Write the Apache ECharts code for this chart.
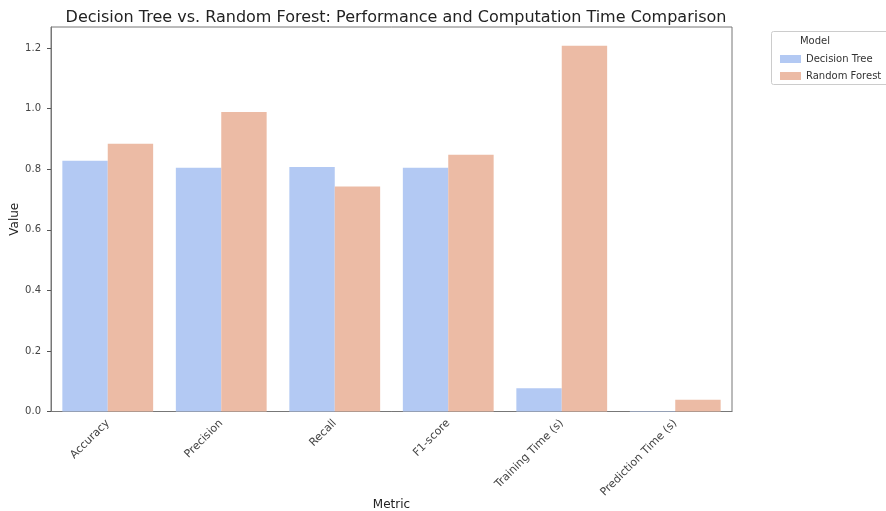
<!DOCTYPE html>
<html><head><meta charset="utf-8">
<script src="https://cdn.jsdelivr.net/npm/echarts@6/dist/echarts.min.js"></script>
<style>html,body{margin:0;padding:0;background:#fff}#c{width:886px;height:511px}</style>
</head><body><div id="c"></div>
<script>
const categories = ["Accuracy","Precision","Recall","F1-score","Training Time (s)","Prediction Time (s)"];
const decisionTree = [0.828,0.805,0.807,0.805,0.077,0.002];
const randomForest = [0.884,0.989,0.743,0.848,1.208,0.039];
const seriesNames = ["Decision Tree","Random Forest"];
const colors = ["#b3c9f3","#ecbba5"];
const font = "DejaVu Sans";
const chart = echarts.init(document.getElementById('c'));
chart.setOption({
  animation:false,
  title:{text:"Decision Tree vs. Random Forest: Performance and Computation Time Comparison",left:391,top:5,textAlign:'center',
    textStyle:{fontFamily:font,fontSize:16,fontWeight:'normal',color:'#222'}},
  grid:{left:51,right:154,top:27,bottom:99.5,show:true,borderColor:'#777',borderWidth:1,containLabel:false,outerBoundsMode:'none'},
  legend:{data:seriesNames,orient:'vertical',left:775,top:49,itemWidth:21,itemHeight:8,itemGap:7,
    textStyle:{fontFamily:font,fontSize:10,color:'#333'},icon:'rect'},
  graphic:[
    {type:'rect',shape:{x:771.5,y:31.5,width:120,height:53,r:2},style:{fill:'none',stroke:'#ccc',lineWidth:1}},
    {type:'text',style:{text:'Model',x:815,y:36,textAlign:'center',fontFamily:font,fontSize:10,fill:'#333'}}
  ],
  xAxis:{type:'category',data:categories,name:'Metric',nameLocation:'middle',nameGap:87,nameMoveOverlap:false,
    nameTextStyle:{fontFamily:font,fontSize:12,color:'#222'},
    axisLine:{lineStyle:{color:'#777'}},axisTick:{alignWithLabel:true,length:4,lineStyle:{color:'#555'}},
    axisLabel:{rotate:45,fontFamily:font,fontSize:11,color:'#444',margin:10}},
  yAxis:{type:'value',min:0,max:1.2695,interval:0.2,name:'Value',nameLocation:'middle',nameGap:30,nameMoveOverlap:false,
    nameTextStyle:{fontFamily:font,fontSize:12,color:'#222'},
    axisLine:{show:true,lineStyle:{color:'#777'}},axisTick:{show:true,length:4,lineStyle:{color:'#555'}},
    splitLine:{show:false},
    axisLabel:{fontFamily:font,fontSize:10,color:'#444',margin:10,showMaxLabel:false,formatter:v=>v.toFixed(1)}},
  series:[
    {name:seriesNames[0],type:'bar',data:decisionTree,itemStyle:{color:colors[0]},barGap:'0%',barCategoryGap:'20%'},
    {name:seriesNames[1],type:'bar',data:randomForest,itemStyle:{color:colors[1]},barGap:'0%',barCategoryGap:'20%'}
  ]
});
</script></body></html>
